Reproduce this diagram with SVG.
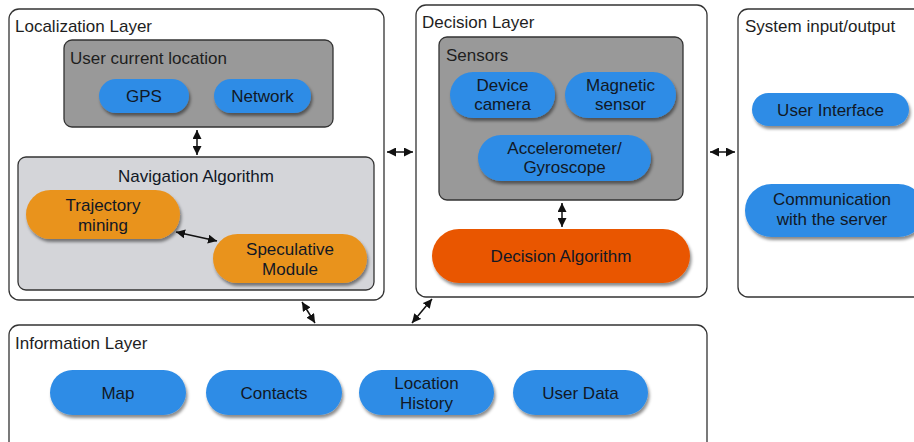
<svg xmlns="http://www.w3.org/2000/svg" width="914" height="442" viewBox="0 0 914 442">
<style>
.layer{fill:#fff;stroke:#333;stroke-width:1.3}
.dark{fill:#999;stroke:#333;stroke-width:1.3}
.light{fill:#d4d5d9;stroke:#333;stroke-width:1.3}
.blue{fill:#2e8ce6;filter:url(#sh)}
.orange{fill:#e9931f;filter:url(#sh)}
.red{fill:#e95700;filter:url(#sh)}
text{font-family:"Liberation Sans",Arial,sans-serif;font-size:17px;fill:#1e1e1e}
.c{text-anchor:middle;fill:#111825}
.conn line{stroke:#111;stroke-width:1.5;marker-start:url(#ah);marker-end:url(#ah)}
</style>
<defs>
<filter id="sh" x="-10%" y="-20%" width="125%" height="160%">
<feDropShadow dx="1.5" dy="3" stdDeviation="1.8" flood-color="#000" flood-opacity="0.45"/>
</filter>
<marker id="ah" viewBox="0 0 10 10" refX="10" refY="5" markerWidth="9" markerHeight="9" markerUnits="userSpaceOnUse" orient="auto-start-reverse">
<path d="M0,0 L10,5 L0,10 z" fill="#111"/>
</marker>
</defs>

<g id="localization-layer">
<rect class="layer" x="9" y="9" width="375" height="291" rx="10"/>
<text x="15" y="32">Localization Layer</text>
</g>
<g id="user-current-location">
<rect class="dark" x="64" y="40" width="269" height="87" rx="8"/>
<text x="70" y="64">User current location</text>
</g>
<g id="gps"><rect class="blue" x="99" y="79" width="90" height="34" rx="17"/><text class="c" x="144" y="102">GPS</text></g>
<g id="network"><rect class="blue" x="214" y="79" width="97" height="34" rx="17"/><text class="c" x="262.5" y="102">Network</text></g>
<g id="navigation-algorithm">
<rect class="light" x="18" y="157" width="356" height="133" rx="8"/>
<text class="c" x="196" y="182">Navigation Algorithm</text>
</g>
<g id="trajectory-mining"><rect class="orange" x="26" y="190" width="154" height="49" rx="24.5"/><text class="c" x="103" y="211">Trajectory</text><text class="c" x="103" y="231">mining</text></g>
<g id="speculative-module"><rect class="orange" x="213" y="234" width="154" height="49" rx="24.5"/><text class="c" x="290" y="255">Speculative</text><text class="c" x="290" y="275">Module</text></g>

<g id="decision-layer">
<rect class="layer" x="416" y="5" width="291" height="292" rx="10"/>
<text x="422" y="28">Decision Layer</text>
</g>
<g id="sensors">
<rect class="dark" x="439" y="37" width="244" height="163" rx="8"/>
<text x="446" y="61">Sensors</text>
</g>
<g id="device-camera"><rect class="blue" x="450" y="72" width="105" height="46" rx="23"/><text class="c" x="502.5" y="91">Device</text><text class="c" x="502.5" y="110">camera</text></g>
<g id="magnetic-sensor"><rect class="blue" x="565" y="72" width="111" height="46" rx="23"/><text class="c" x="620.5" y="91">Magnetic</text><text class="c" x="620.5" y="110">sensor</text></g>
<g id="accelerometer"><rect class="blue" x="478" y="135" width="173" height="46" rx="23"/><text class="c" x="564.5" y="154">Accelerometer/</text><text class="c" x="564.5" y="173">Gyroscope</text></g>
<g id="decision-algorithm"><rect class="red" x="432" y="229" width="258" height="54" rx="27"/><text class="c" x="561" y="262">Decision Algorithm</text></g>

<g id="system-io">
<rect class="layer" x="738" y="9" width="190" height="288" rx="10"/>
<text x="745" y="32">System input/output</text>
</g>
<g id="user-interface"><rect class="blue" x="752" y="93" width="157" height="33" rx="16.5"/><text class="c" x="830.5" y="116">User Interface</text></g>
<g id="communication"><rect class="blue" x="745" y="184" width="180" height="53" rx="26.5"/><text class="c" x="832" y="205">Communication</text><text class="c" x="832" y="225">with the server</text></g>

<g id="information-layer">
<rect class="layer" x="9" y="325" width="698" height="130" rx="10"/>
<text x="15" y="349">Information Layer</text>
</g>
<g id="map"><rect class="blue" x="50" y="370" width="136" height="45" rx="22.5"/><text class="c" x="118" y="399">Map</text></g>
<g id="contacts"><rect class="blue" x="206" y="370" width="136" height="45" rx="22.5"/><text class="c" x="274" y="399">Contacts</text></g>
<g id="location-history"><rect class="blue" x="359" y="370" width="135" height="45" rx="22.5"/><text class="c" x="426.5" y="389">Location</text><text class="c" x="426.5" y="409">History</text></g>
<g id="user-data"><rect class="blue" x="513" y="370" width="135" height="45" rx="22.5"/><text class="c" x="580.5" y="399">User Data</text></g>

<g id="connectors" class="conn">
<line x1="197" y1="130" x2="197" y2="155"/>
<line x1="176" y1="232" x2="217" y2="241"/>
<line x1="387" y1="152" x2="413" y2="152"/>
<line x1="710" y1="152" x2="735" y2="152"/>
<line x1="562" y1="203" x2="562" y2="227"/>
<line x1="302" y1="302" x2="315" y2="323"/>
<line x1="432" y1="299" x2="412" y2="323"/>
</g>
</svg>
